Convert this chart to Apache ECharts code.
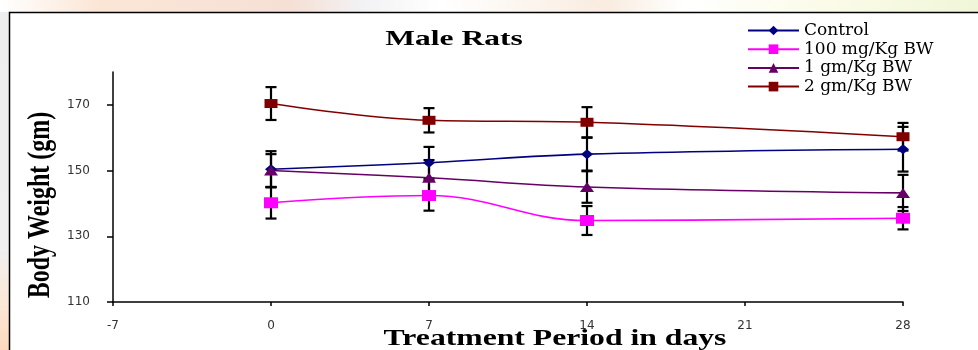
<!DOCTYPE html>
<html><head><meta charset="utf-8">
<script src="https://cdn.jsdelivr.net/npm/echarts@6/dist/echarts.min.js"></script>
<style>html,body{margin:0;padding:0;background:#fff}#c{width:978px;height:350px}</style>
</head><body><div id="c"></div>
<script>
const days = [0, 7, 14, 28];
const seriesNames = ['Control', '100 mg/Kg BW', '1 gm/Kg BW', '2 gm/Kg BW'];
const control = [150.4, 152.4, 155.0, 156.5];
const controlErr = [5.5, 4.8, 5.0, 6.8];
const mg100 = [140.2, 142.4, 134.8, 135.5];
const mg100Err = [4.8, 4.6, 4.4, 3.4];
const gm1 = [150.0, 147.8, 145.0, 143.2];
const gm1Err = [5.0, 5.4, 4.8, 5.5];
const gm2 = [170.4, 165.3, 164.7, 160.3];
const gm2Err = [5.0, 3.7, 4.6, 4.2];
const xTicks = [-7, 0, 7, 14, 21, 28];
const yTicks = [110, 130, 150, 170];
const chartTitle = 'Male Rats';
const xTitle = 'Treatment Period in days';
const yTitle = 'Body Weight (gm)';

const colors = ['#000080', '#FF00FF', '#660066', '#800000'];
const symbols = ['diamond', 'rect', 'triangle', 'rect'];
const symbolSizes = [[12, 10], [14, 11], [14, 10], [13, 9]];
const values = [control, mg100, gm1, gm2];
const errs = [controlErr, mg100Err, gm1Err, gm2Err];

function errSeries(vals, e) {
  return {
    type: 'custom', z: 1, silent: true,
    encode: { x: 0, y: [1, 2] },
    data: days.map((d, i) => [d, vals[i] - e[i], vals[i] + e[i]]),
    renderItem(params, api) {
      const x = api.value(0);
      const lo = api.coord([x, api.value(1)]);
      const hi = api.coord([x, api.value(2)]);
      const hw = 5.5;
      const style = { stroke: '#000', lineWidth: 2.2 };
      return { type: 'group', children: [
        { type: 'line', shape: { x1: lo[0], y1: lo[1], x2: hi[0], y2: hi[1] }, style },
        { type: 'line', shape: { x1: lo[0] - hw, y1: lo[1], x2: lo[0] + hw, y2: lo[1] }, style },
        { type: 'line', shape: { x1: hi[0] - hw, y1: hi[1], x2: hi[0] + hw, y2: hi[1] }, style }
      ] };
    }
  };
}

const series = [];
values.forEach((v, k) => series.push(errSeries(v, errs[k])));
values.forEach((v, k) => series.push({
  name: seriesNames[k], type: 'line', z: 3, smooth: 0.4,
  data: days.map((d, i) => [d, v[i]]),
  symbol: symbols[k], symbolSize: symbolSizes[k],
  itemStyle: { color: colors[k], opacity: 1 },
  lineStyle: { color: colors[k], width: 1.6 }
}));

const chart = echarts.init(document.getElementById('c'));
chart.setOption({
  animation: false,
  backgroundColor: '#fff',
  grid: { left: 113, right: 75, top: 72, bottom: 48 },
  legend: {
    data: seriesNames, orient: 'vertical', left: 742, top: 17,
    itemWidth: 51, itemHeight: 12, itemGap: 1.7,
    textStyle: { fontFamily: 'DejaVu Serif', fontSize: 17, color: '#000' }
  },
  xAxis: {
    type: 'value', min: xTicks[0], max: xTicks[xTicks.length - 1], interval: 7,
    axisLine: { onZero: false, lineStyle: { color: '#000', width: 1.5 } },
    axisTick: { length: 4, lineStyle: { color: '#000', width: 1.5 } },
    axisLabel: { customValues: xTicks, margin: 18, fontFamily: 'DejaVu Sans', fontSize: 12, color: '#333' },
    splitLine: { show: false }
  },
  yAxis: {
    type: 'value', min: 110, max: 180,
    axisLine: { show: true, onZero: false, lineStyle: { color: '#000', width: 1.5 } },
    axisTick: { show: true, customValues: yTicks, length: 6, lineStyle: { color: '#000', width: 1.5 } },
    axisLabel: { customValues: yTicks, margin: 23, fontFamily: 'DejaVu Sans', fontSize: 12, color: '#333' },
    splitLine: { show: false }
  },
  graphic: [
    { type: 'rect', z: -10, silent: true, shape: { x: 0, y: 0, width: 978, height: 12 },
      style: { fill: new echarts.graphic.LinearGradient(0, 0, 1, 0, [
        { offset: 0, color: '#ffffff' }, { offset: 0.1, color: '#fbe6d6' }, { offset: 0.3, color: '#f6e0d6' },
        { offset: 0.37, color: '#f2f2f4' }, { offset: 0.45, color: '#ffffff' }, { offset: 0.62, color: '#f9ece0' },
        { offset: 0.7, color: '#ffffff' }, { offset: 0.85, color: '#fbfbe8' }, { offset: 1, color: '#f0f6d8' }]) } },
    { type: 'rect', z: -10, silent: true, shape: { x: 0, y: 12, width: 9, height: 338 },
      style: { fill: new echarts.graphic.LinearGradient(0, 0, 0, 1, [
        { offset: 0, color: '#eeeeee' }, { offset: 0.7, color: '#f0f0f0' }, { offset: 0.85, color: '#fbe8d8' },
        { offset: 1, color: '#fbd9bf' }]) } },
    { type: 'polyline', z: 10, silent: true, shape: { points: [[9.5, 350], [9.5, 12.5], [978, 12.5]] },
      style: { stroke: '#000', lineWidth: 1.5, fill: null } },
    { type: 'text', z: 10, silent: true, x: 454, y: 40, scaleX: 1.5,
      style: { text: chartTitle, fill: '#000', font: 'bold 21px "Liberation Serif"', align: 'center', verticalAlign: 'middle' } },
    { type: 'text', z: 10, silent: true, x: 555, y: 339, scaleX: 1.32,
      style: { text: xTitle, fill: '#000', font: 'bold 24px "Liberation Serif"', align: 'center', verticalAlign: 'middle' } },
    { type: 'text', z: 10, silent: true, x: 41, y: 205, rotation: Math.PI / 2, scaleY: 1.3,
      style: { text: yTitle, fill: '#000', font: 'bold 24px "Liberation Serif"', align: 'center', verticalAlign: 'middle' } }
  ],
  series: series
});
</script></body></html>
